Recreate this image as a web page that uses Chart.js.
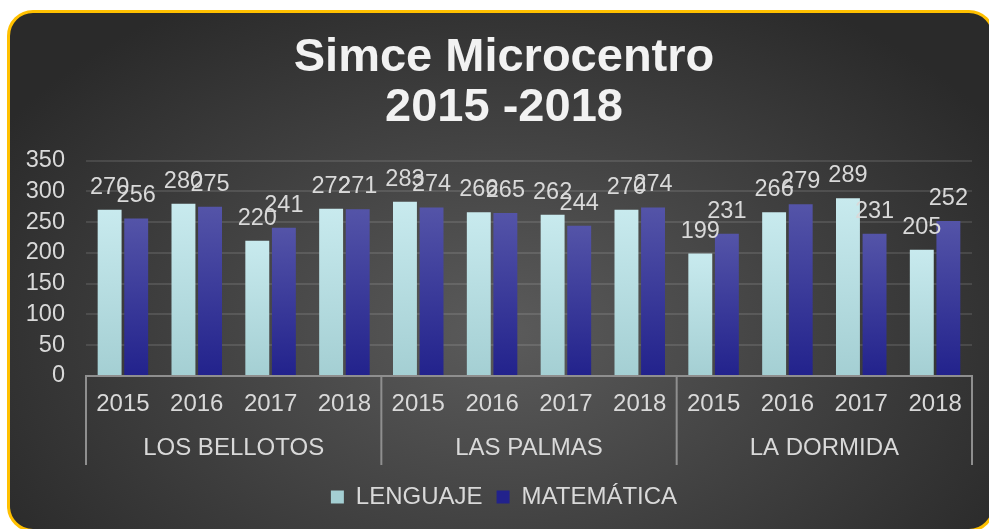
<!DOCTYPE html>
<html>
<head>
<meta charset="utf-8">
<script src="https://cdn.jsdelivr.net/npm/chart.js@4.4.1/dist/chart.umd.min.js"></script>
<style>
  html, body { margin: 0; padding: 0; background: #ffffff; overflow: hidden; }
  #marco {
    position: absolute; left: 7px; top: 10px; width: 988px; height: 522px;
    box-sizing: border-box; border: 3px solid #ffc000; border-radius: 26px;
    background: radial-gradient(ellipse 60% 75% at 50% 62%, #5b5b5b 0%, #404040 55%, #2a2a2a 100%);
  }
  #grafico { position: absolute; left: 0; top: 0; }
</style>
</head>
<body>
<div id="marco"></div>
<canvas id="grafico" width="989" height="529"></canvas>
<script>
const anos = ["2015", "2016", "2017", "2018", "2015", "2016", "2017", "2018", "2015", "2016", "2017", "2018"];
const escuelas = ["LOS BELLOTOS", "LAS PALMAS", "LA DORMIDA"];
const lenguaje = [270, 280, 220, 272, 283, 266, 262, 270, 199, 266, 289, 205];
const matematica = [256, 275, 241, 271, 274, 265, 244, 274, 231, 279, 231, 252];
const ticksY = [0, 50, 100, 150, 200, 250, 300, 350];

const fuente = "'Liberation Sans', Arial, sans-serif";
const gris = "#d9d9d9";

// degradado por barra, desde su tope hasta la base
function degradado(topo, base) {
  return (ctx) => {
    const chart = ctx.chart;
    if (!chart.chartArea || ctx.type !== "data") return base;
    const yTopo = chart.scales.y.getPixelForValue(ctx.raw);
    const g = chart.ctx.createLinearGradient(0, yTopo, 0, chart.chartArea.bottom);
    g.addColorStop(0, topo);
    g.addColorStop(1, base);
    return g;
  };
}

const etiquetas = {
  id: "etiquetas",
  afterDatasetsDraw(chart) {
    const c = chart.ctx;
    c.save();
    c.font = "23.5px " + fuente;
    c.fillStyle = gris;
    c.textAlign = "center";
    c.textBaseline = "alphabetic";
    chart.data.datasets.forEach((ds, i) => {
      chart.getDatasetMeta(i).data.forEach((barra, j) => {
        c.fillText(String(ds.data[j]), barra.x, barra.y - 16);
      });
    });
    c.restore();
  }
};

const separadores = {
  id: "separadores",
  afterDraw(chart) {
    const x = chart.scales.x;
    const x2 = chart.scales.x2;
    const medio = (x.getPixelForValue(1) - x.getPixelForValue(0)) / 2;
    const c = chart.ctx;
    c.save();
    c.strokeStyle = "#8f8f8f";
    c.lineWidth = 2;
    for (let i = 0; i <= anos.length; i += 4) {
      let px = i < anos.length ? x.getPixelForValue(i) - medio : x.getPixelForValue(anos.length - 1) + medio;
      c.beginPath();
      c.moveTo(px, chart.chartArea.bottom);
      c.lineTo(px, x2.bottom - 6);
      c.stroke();
    }
    c.restore();
  }
};

new Chart(document.getElementById("grafico"), {
  type: "bar",
  data: {
    labels: anos,
    datasets: [
      {
        label: "LENGUAJE",
        data: lenguaje,
        backgroundColor: degradado("#c8eaee", "#a4cfd3"),
        categoryPercentage: 0.72,
        barPercentage: 0.9
      },
      {
        label: "MATEMÁTICA",
        data: matematica,
        backgroundColor: degradado("#5454a8", "#22228c"),
        categoryPercentage: 0.72,
        barPercentage: 0.9
      }
    ]
  },
  options: {
    responsive: false,
    animation: false,
    layout: { padding: { left: 20, right: 1, top: 0, bottom: 10 } },
    scales: {
      x: {
        grid: { display: false, drawTicks: false },
        border: { display: true, color: "#8f8f8f", width: 2 },
        ticks: { color: gris, font: { family: fuente, size: 24 }, padding: 14, maxRotation: 0, autoSkip: false },
        afterFit(scale) { scale.height = 44; }
      },
      x2: {
        type: "category",
        labels: escuelas,
        position: "bottom",
        offset: true,
        grid: { display: false, drawTicks: false },
        border: { display: false },
        ticks: { color: gris, font: { family: fuente, size: 24 }, padding: 14 },
        afterFit(scale) { scale.height = 51; }
      },
      y: {
        min: 0,
        max: 350,
        afterBuildTicks(scale) { scale.ticks = ticksY.map((v) => ({ value: v })); },
        grid: { color: "rgba(255,255,255,0.11)", lineWidth: 2, drawTicks: false },
        border: { display: false },
        ticks: { color: gris, font: { family: fuente, size: 23.5 }, padding: 21, autoSkip: false },
        afterFit(scale) { scale.width = 66; }
      },
      // eje vacío a la derecha, solo para centrar título y leyenda como en el original
      yDer: {
        type: "linear",
        position: "right",
        grid: { display: false, drawTicks: false },
        border: { display: false },
        ticks: { display: false },
        afterFit(scale) { scale.width = 16; }
      }
    },
    plugins: {
      title: {
        display: true,
        text: ["Simce Microcentro", "2015 -2018"],
        color: "#f2f2f2",
        font: { family: fuente, size: 47, weight: "bold", lineHeight: 1.06 },
        padding: { top: 33, bottom: 28 }
      },
      legend: {
        position: "bottom",
        labels: {
          color: gris,
          font: { family: fuente, size: 24 },
          boxWidth: 13,
          boxHeight: 13,
          padding: 14
        }
      },
      tooltip: { enabled: false }
    }
  },
  plugins: [etiquetas, separadores]
});
</script>
</body>
</html>
